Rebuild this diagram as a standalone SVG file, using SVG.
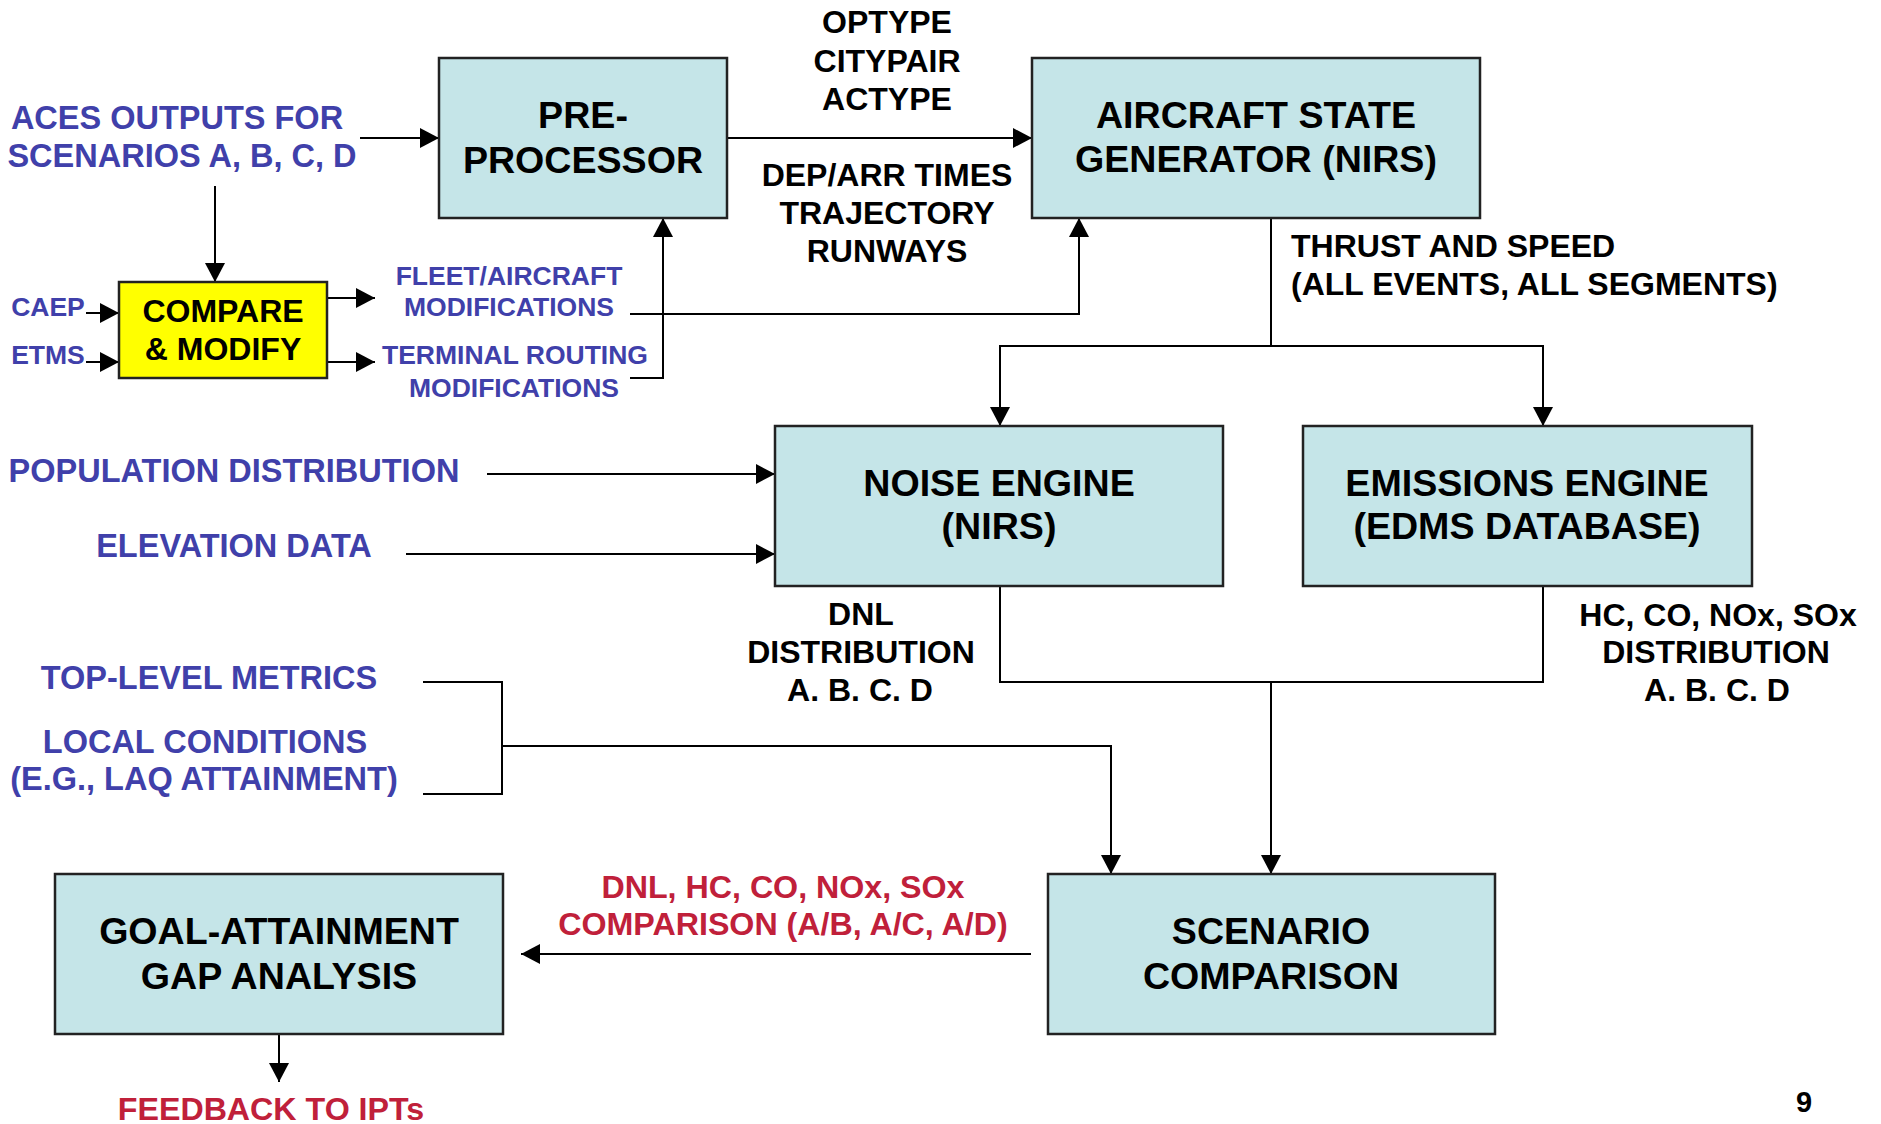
<svg xmlns="http://www.w3.org/2000/svg" width="1881" height="1124" viewBox="0 0 1881 1124">
<style>
text{font-family:"Liberation Sans",Arial,sans-serif;font-weight:bold;text-anchor:middle}
.box{fill:#C5E5E8;stroke:#222;stroke-width:2.5}
.yel{fill:#FFFF00;stroke:#222;stroke-width:2.5}
.t{font-size:37.6px;fill:#000}
.k{font-size:32px;fill:#000}
.b{font-size:32.5px;fill:#4040AA}
.bs{font-size:26.5px;fill:#4040AA}
.r{font-size:32.2px;fill:#C0203A}
.c{fill:none;stroke:#000;stroke-width:2}
</style>
<defs>
<marker id="ah" markerUnits="userSpaceOnUse" markerWidth="19" markerHeight="20" refX="19" refY="10" orient="auto">
<path d="M0,0 L19,10 L0,20 z" fill="#000"/>
</marker>
</defs>
<rect width="1881" height="1124" fill="#fff"/>

<g id="connectors">
<path class="c" d="M360,138 H439" marker-end="url(#ah)"/>
<path class="c" d="M215,186 V282" marker-end="url(#ah)"/>
<path class="c" d="M86,313 H119" marker-end="url(#ah)"/>
<path class="c" d="M86,362 H119" marker-end="url(#ah)"/>
<path class="c" d="M327,298 H375" marker-end="url(#ah)"/>
<path class="c" d="M327,362 H375" marker-end="url(#ah)"/>
<path class="c" d="M630,314 H1079 V218" marker-end="url(#ah)"/>
<path class="c" d="M630,378 H663 V218" marker-end="url(#ah)"/>
<path class="c" d="M727,138 H1032" marker-end="url(#ah)"/>
<path class="c" d="M1271,218 V346"/>
<path class="c" d="M1271,346 H1000 V426" marker-end="url(#ah)"/>
<path class="c" d="M1271,346 H1543 V426" marker-end="url(#ah)"/>
<path class="c" d="M487,474 H775" marker-end="url(#ah)"/>
<path class="c" d="M406,554 H775" marker-end="url(#ah)"/>
<path class="c" d="M1000,586 V682 H1543 V586"/>
<path class="c" d="M1271,682 V874" marker-end="url(#ah)"/>
<path class="c" d="M423,682 H502 V794 H423"/>
<path class="c" d="M502,746 H1111 V874" marker-end="url(#ah)"/>
<path class="c" d="M1031,954 H521" marker-end="url(#ah)"/>
<path class="c" d="M279,1034 V1082" marker-end="url(#ah)"/>
</g>

<g id="pre-processor">
<rect class="box" x="439" y="58" width="288" height="160"/>
<text class="t" x="583" y="128">PRE-</text>
<text class="t" x="583" y="173">PROCESSOR</text>
</g>

<g id="aircraft-state-generator">
<rect class="box" x="1032" y="58" width="448" height="160"/>
<text class="t" x="1256" y="128">AIRCRAFT STATE</text>
<text class="t" x="1256" y="172">GENERATOR (NIRS)</text>
</g>

<g id="compare-modify">
<rect class="yel" x="119" y="282" width="208" height="96"/>
<text class="k" x="223" y="322">COMPARE</text>
<text class="k" x="223" y="360">&amp; MODIFY</text>
</g>

<g id="noise-engine">
<rect class="box" x="775" y="426" width="448" height="160"/>
<text class="t" x="999" y="496">NOISE ENGINE</text>
<text class="t" x="999" y="539">(NIRS)</text>
</g>

<g id="emissions-engine">
<rect class="box" x="1303" y="426" width="449" height="160"/>
<text class="t" x="1527" y="496">EMISSIONS ENGINE</text>
<text class="t" x="1527" y="539">(EDMS DATABASE)</text>
</g>

<g id="scenario-comparison">
<rect class="box" x="1048" y="874" width="447" height="160"/>
<text class="t" x="1271" y="944">SCENARIO</text>
<text class="t" x="1271" y="989">COMPARISON</text>
</g>

<g id="goal-attainment">
<rect class="box" x="55" y="874" width="448" height="160"/>
<text class="t" x="279" y="944">GOAL-ATTAINMENT</text>
<text class="t" x="279" y="989">GAP ANALYSIS</text>
</g>

<g id="labels">
<text class="b" x="177" y="129">ACES OUTPUTS FOR</text>
<text class="b" x="182" y="167">SCENARIOS A, B, C, D</text>
<text class="bs" x="48" y="316">CAEP</text>
<text class="bs" x="48" y="364">ETMS</text>
<text class="bs" x="509" y="285">FLEET/AIRCRAFT</text>
<text class="bs" x="509" y="316">MODIFICATIONS</text>
<text class="bs" x="515" y="364">TERMINAL ROUTING</text>
<text class="bs" x="514" y="397">MODIFICATIONS</text>
<text class="k" x="887" y="33">OPTYPE</text>
<text class="k" x="887" y="72">CITYPAIR</text>
<text class="k" x="887" y="110">ACTYPE</text>
<text class="k" x="887" y="186">DEP/ARR TIMES</text>
<text class="k" x="887" y="224">TRAJECTORY</text>
<text class="k" x="887" y="262">RUNWAYS</text>
<text class="k" x="1291" y="257" style="text-anchor:start">THRUST AND SPEED</text>
<text class="k" x="1291" y="295" style="text-anchor:start">(ALL EVENTS, ALL SEGMENTS)</text>
<text class="b" x="234" y="482">POPULATION DISTRIBUTION</text>
<text class="b" x="234" y="557">ELEVATION DATA</text>
<text class="k" x="861" y="625">DNL</text>
<text class="k" x="861" y="663">DISTRIBUTION</text>
<text class="k" x="860" y="701">A. B. C. D</text>
<text class="k" x="1718" y="626">HC, CO, NOx, SOx</text>
<text class="k" x="1716" y="663">DISTRIBUTION</text>
<text class="k" x="1717" y="701">A. B. C. D</text>
<text class="b" x="209" y="689">TOP-LEVEL METRICS</text>
<text class="b" x="205" y="753">LOCAL CONDITIONS</text>
<text class="b" x="204" y="790">(E.G., LAQ ATTAINMENT)</text>
<text class="r" x="783" y="898">DNL, HC, CO, NOx, SOx</text>
<text class="r" x="783" y="935">COMPARISON (A/B, A/C, A/D)</text>
<text class="r" x="271" y="1120">FEEDBACK TO IPTs</text>
<text class="k" x="1804" y="1112" style="font-size:29px">9</text>
</g>
</svg>
